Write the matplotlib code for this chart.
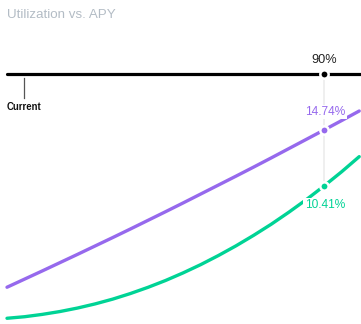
import matplotlib
matplotlib.use("Agg")
import matplotlib.pyplot as plt

utilization = [0, 5, 10, 15, 20, 25, 30, 35, 40, 45, 50, 55, 60, 65, 70, 75, 80, 85, 90, 95, 100]
borrow_apy = [2.58, 3.21, 3.84, 4.48, 5.12, 5.77, 6.42, 7.08, 7.75, 8.42, 9.10,
              9.79, 10.48, 11.17, 11.87, 12.58, 13.30, 14.02, 14.74, 15.47, 16.21]
supply_apy = [0.18, 0.30, 0.48, 0.70, 0.97, 1.29, 1.66, 2.09, 2.57, 3.10, 3.69,
              4.33, 5.03, 5.78, 6.59, 7.45, 8.38, 9.36, 10.41, 11.51, 12.68]
current_util = 4.8
selected_util = 90
selected_borrow = 14.74
selected_supply = 10.41
title = "Utilization vs. APY"

PURPLE = "#9669ED"
GREEN = "#00D395"
FONT = ["Liberation Sans", "DejaVu Sans"]

W, H = 361, 324
fig = plt.figure(figsize=(W / 100, H / 100), dpi=100)
ax = fig.add_axes([0, 0, 1, 1])
xpp = 317 / 90.0
ypp = 12.93
ax.set_xlim(-7 / xpp, (W - 7) / xpp)
y0 = 320.6
ax.set_ylim(-(H - y0) / ypp, y0 / ypp)
ax.axis("off")

axis_y = (y0 - 74) / ypp

ax.plot([0, 200], [axis_y, axis_y], color="black", lw=2.3, solid_capstyle="round", zorder=3)
ax.plot([selected_util, selected_util], [axis_y, selected_supply], color="#ececec", lw=1.2, zorder=1)

ax.plot(utilization, borrow_apy, color=PURPLE, lw=2.4, solid_capstyle="round", zorder=2)
ax.plot(utilization, supply_apy, color=GREEN, lw=2.4, solid_capstyle="round", zorder=2)

ax.plot([selected_util], [axis_y], "o", color="black", ms=6, mec="white", mew=1.8, zorder=5)
ax.plot([selected_util], [selected_borrow], "o", color=PURPLE, ms=6, mec="white", mew=1.8, zorder=5)
ax.plot([selected_util], [selected_supply], "o", color=GREEN, ms=6, mec="white", mew=1.8, zorder=5)

ax.plot([current_util, current_util], [(y0 - 78) / ypp, (y0 - 98) / ypp], color="#555555", lw=0.9)
ax.text(current_util, (y0 - 107) / ypp, "Current", ha="center", va="center",
        fontsize=6.9, fontweight="bold", color="#111111", family=FONT)

ax.text(selected_util, (y0 - 60) / ypp, f"{selected_util}%", ha="center", va="center",
        fontsize=9.2, color="#222222", family=FONT)
ax.text(selected_util + 0.3, (y0 - 112) / ypp, f"{selected_borrow:.2f}%", ha="center", va="center",
        fontsize=8.6, color=PURPLE, zorder=4, family=FONT,
        bbox=dict(facecolor="white", edgecolor="none", pad=1.0))
ax.text(selected_util + 0.3, (y0 - 205) / ypp, f"{selected_supply:.2f}%", ha="center", va="center",
        fontsize=8.6, color=GREEN, zorder=4, family=FONT,
        bbox=dict(facecolor="white", edgecolor="none", pad=1.0))

fig.text(7 / W, 1 - 15 / H, title, ha="left", va="center", fontsize=9.6, color="#B3BCC5", family=FONT)

fig.savefig("out.png", dpi=100)
